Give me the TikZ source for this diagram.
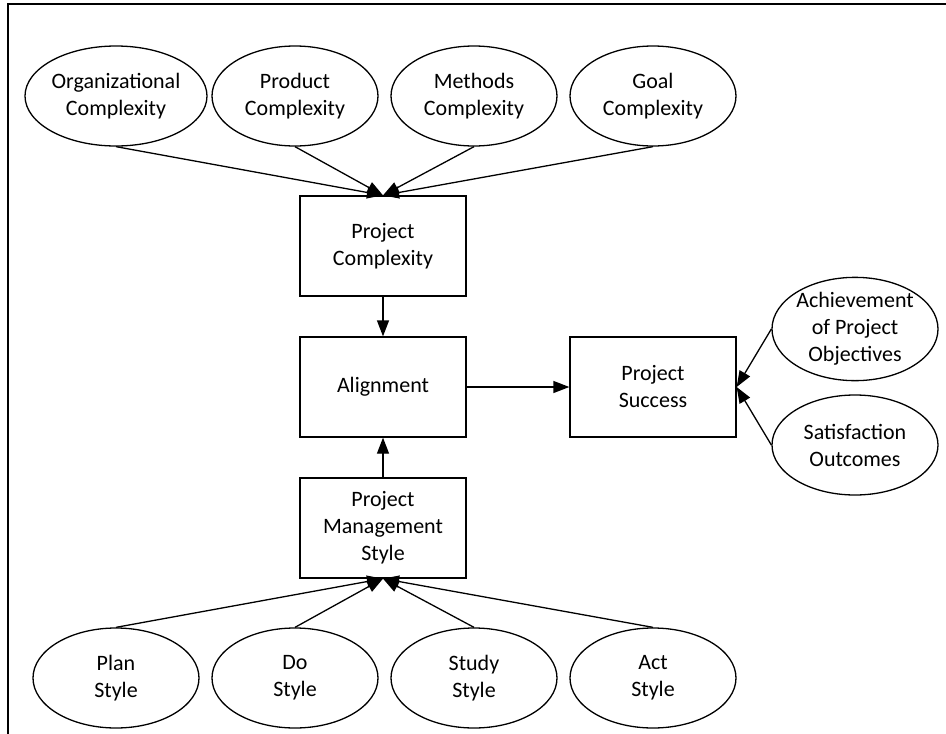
\documentclass[tikz,border=0pt]{standalone}
\usepackage{fontspec}
\setmainfont{Carlito}
\usetikzlibrary{shapes.geometric,arrows.meta}
\begin{document}
\begin{tikzpicture}[x=1pt,y=-1pt,
  every node/.style={font=\fontsize{22}{27}\selectfont, align=center, inner sep=0pt},
  factor/.style={ellipse, draw, line width=1.3pt, minimum width=166pt, minimum height=100pt},
  block/.style={rectangle, draw, line width=1.3pt, minimum width=166pt, minimum height=100pt},
  link/.style={line width=1.3pt, -{Triangle[length=16pt,width=12pt]}}]
\useasboundingbox (0,0) rectangle (946,734);
% outer frame
\draw[line width=1.6pt] (8,740) -- (8,4) -- (950,4);

% complexity dimensions
\node[factor] (org)   at (116,96) {Organizational\\Complexity};
\node[factor] (prod)  at (295,96) {Product\\Complexity};
\node[factor] (meth)  at (474,96) {Methods\\Complexity};
\node[factor] (goal)  at (653,96) {Goal\\Complexity};

% central blocks
\node[block] (pc) at (383,246) {Project\\Complexity};
\node[block] (al) at (383,387) {Alignment};
\node[block] (ps) at (653,387) {Project\\Success};
\node[block] (pm) at (383,528) {Project\\Management\\Style};

% success measures
\node[factor] (ach) at (855,329) {Achievement\\of Project\\Objectives};
\node[factor] (sat) at (855,445) {Satisfaction\\Outcomes};

% management styles
\node[factor] (plan)  at (116,678) {Plan\\Style};
\node[factor] (do)    at (295,678) {Do\\Style};
\node[factor] (study) at (474,678) {Study\\Style};
\node[factor] (act)   at (653,678) {Act\\Style};

% connectors
\foreach \n in {org,prod,meth,goal} \draw[link] (\n.south) -- (pc.north);
\foreach \n in {plan,do,study,act} \draw[link] (\n.north) -- (pm.south);
\draw[link] (pc.south) -- (al.north);
\draw[link] (pm.north) -- (al.south);
\draw[link] (al.east) -- (ps.west);
\draw[link] (ach.west) -- (ps.east);
\draw[link] (sat.west) -- (ps.east);
\end{tikzpicture}
\end{document}
